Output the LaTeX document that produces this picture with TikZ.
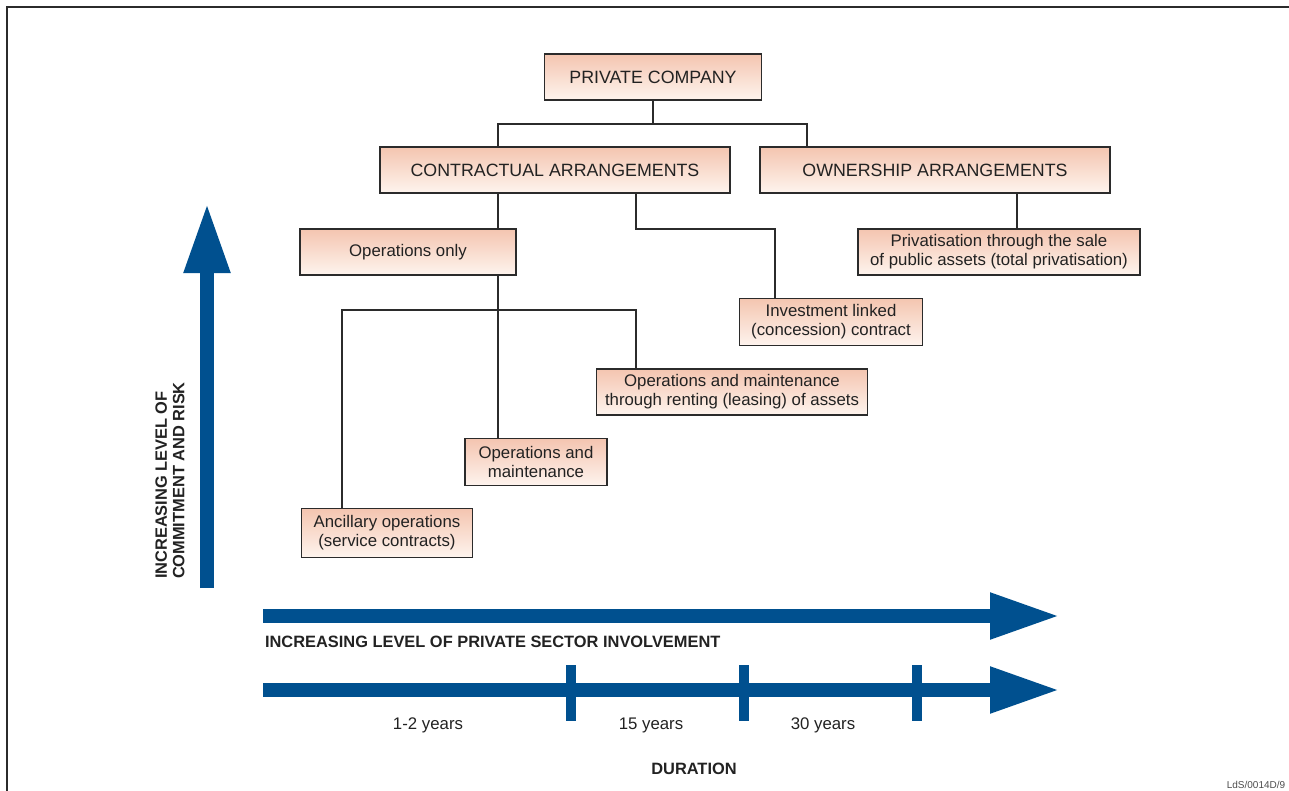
\documentclass[tikz,border=0pt]{standalone}
\usepackage{fontspec}
\setmainfont{Liberation Sans}
\usetikzlibrary{arrows.meta}
\definecolor{ldsblue}{HTML}{00508F}
\definecolor{ldsline}{HTML}{2B2B2B}
\definecolor{ldstext}{HTML}{222222}
\definecolor{ldstop}{HTML}{F4C5B0}
\definecolor{ldsbot}{HTML}{FEF4EE}
\begin{document}
\begin{tikzpicture}[
  x=0.5pt, y=-0.5pt,
  every node/.style={font=\fontsize{8.4}{9.6}\selectfont, text=ldstext},
  box/.style={rectangle, draw=ldsline, line width=0.9pt, top color=ldstop, bottom color=ldsbot, minimum height=23pt, align=center, inner sep=2pt},
  headbox/.style={box, font=\fontsize{8.9}{10}\selectfont},
  link/.style={draw=ldsline, line width=0.9pt},
  bigarrow/.style={ldsblue, line width=7pt, -{Triangle[length=35pt, width=21.5pt]}},
  tickmark/.style={ldsblue, line width=5pt},
  axislabel/.style={font=\fontsize{8.2}{8.8}\selectfont\bfseries},
]
\useasboundingbox (0,0) rectangle (1289,791);

% Frame
\draw[ldsline, line width=1pt] (7,791) -- (7,7) -- (1289,7);

% Top level
\node[headbox, minimum width=108.5pt] (pc) at (653,77) {PRIVATE COMPANY};
\node[headbox, minimum width=175pt] (ca) at (555,170) {CONTRACTUAL ARRANGEMENTS};
\node[headbox, minimum width=175pt] (oa) at (935,170) {OWNERSHIP ARRANGEMENTS};

% Arrangements
\node[box, minimum width=108pt] (oo) at (408,252) {Operations only};
\node[box, minimum width=141pt] (pv) at (999,252) {Privatisation through the sale\\of public assets (total privatisation)};
\node[box, minimum width=91.5pt, minimum height=23.5pt] (inv) at (831,322) {Investment linked\\(concession) contract};
\node[box, minimum width=135.5pt] (rent) at (732,392) {Operations and maintenance\\through renting (leasing) of assets};
\node[box, minimum width=71pt, minimum height=23.5pt] (om) at (536,462) {Operations and\\maintenance};
\node[box, minimum width=85.5pt, minimum height=24.5pt] (anc) at (387,533) {Ancillary operations\\(service contracts)};

% Junctions
\coordinate (jl) at (498,124);
\coordinate (jr) at (807,124);
\coordinate (ji) at (636,229);
\coordinate (ji2) at (775,229);
\coordinate (jp) at (1017,229);
\coordinate (jo) at (498,310);
\coordinate (jol) at (342,310);
\coordinate (jor) at (636,310);

% Connectors
\draw[link] (pc.south) -- (pc.south |- jl);
\draw[link] (ca.north -| jl) -- (jl) -- (jr) -- (oa.north -| jr);
\draw[link] (ca.south -| jl) -- (oo.north -| jl);
\draw[link] (ca.south -| ji) -- (ji) -- (ji2) -- (inv.north -| ji2);
\draw[link] (oa.south -| jp) -- (pv.north -| jp);
\draw[link] (oo.south -| jo) -- (om.north -| jo);
\draw[link] (anc.north -| jol) -- (jol) -- (jor) -- (rent.north -| jor);

% Axes
\draw[bigarrow] (207,588) -- (207,203);
\node[axislabel, rotate=90, anchor=west, align=left] (vlab) at (170,586) {INCREASING LEVEL OF\\COMMITMENT AND RISK};

\draw[bigarrow] (263,616) -- (1060,616);
\node[axislabel, anchor=west] (hlab) at (258,642) {INCREASING LEVEL OF PRIVATE SECTOR INVOLVEMENT};

\draw[bigarrow] (263,690) -- (1060,690);
\foreach \x in {571,744,917}
  \draw[tickmark] (\x,665) -- (\x,721);
\node (y1) at (428,725) {1-2 years};
\node (y2) at (651,725) {15 years};
\node (y3) at (823,725) {30 years};
\node[axislabel] (dur) at (694,769) {DURATION};

\node[font=\fontsize{5}{6}\selectfont, text=black!70] (ref) at (1256,785) {LdS/0014D/9};

\end{tikzpicture}
\end{document}
